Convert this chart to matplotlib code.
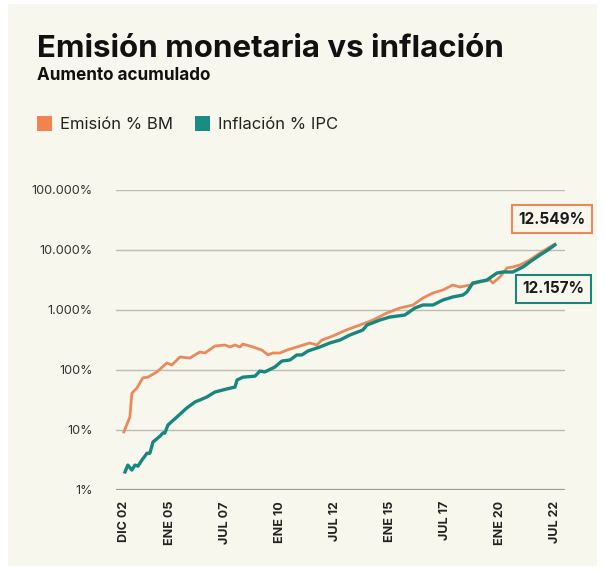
import matplotlib.pyplot as plt
import matplotlib.ticker as mticker
from matplotlib.patches import Rectangle

plt.rcParams["font.family"] = ["Inter", "DejaVu Sans"]

ORANGE = "#e9895c"
TEAL = "#17877e"
CREAM = "#f8f7ed"

# Emision % BM (aumento acumulado, escala log)
bm_years = [2002.92, 2003.19, 2003.28, 2003.51, 2003.78, 2004.01, 2004.42, 2004.87,
            2005.10, 2005.47, 2005.92, 2006.37, 2006.60, 2007.06, 2007.51, 2007.74,
            2007.97, 2008.19, 2008.33, 2008.78, 2009.19, 2009.47, 2009.69, 2010.01,
            2010.33, 2010.92, 2011.37, 2011.69, 2011.92, 2012.42, 2013.06, 2013.65,
            2014.24, 2014.87, 2015.47, 2016.06, 2016.51, 2016.97, 2017.42, 2017.87,
            2018.19, 2018.65, 2019.10, 2019.56, 2019.69, 2020.01, 2020.33, 2020.60,
            2020.92, 2021.37, 2021.83, 2022.28, 2022.51]
bm_values = [9.3, 16.5, 41, 50, 74, 76, 93, 131,
             121, 165, 158, 200, 192, 251, 261, 242,
             261, 242, 271, 242, 215, 178, 192, 192,
             215, 251, 282, 261, 316, 369, 470, 562,
             681, 891, 1080, 1212, 1585, 1920, 2154, 2610,
             2415, 2610, 2929, 3162, 2818, 3548, 5012, 5210,
             5623, 6813, 8913, 11220, 12549]

# Inflacion % IPC
ipc_years = [2002.97, 2003.10, 2003.28, 2003.42, 2003.56, 2003.74, 2003.97, 2004.10,
             2004.24, 2004.56, 2004.69, 2004.78, 2004.92, 2005.33, 2005.78, 2006.15,
             2006.37, 2006.69, 2007.06, 2007.60, 2007.97, 2008.06, 2008.33, 2008.88,
             2009.10, 2009.33, 2009.78, 2010.10, 2010.47, 2010.78, 2011.01, 2011.28,
             2011.83, 2012.28, 2012.74, 2013.19, 2013.78, 2013.97, 2014.56, 2015.01,
             2015.69, 2016.15, 2016.51, 2016.97, 2017.42, 2017.87, 2018.33, 2018.51,
             2018.78, 2019.42, 2019.88, 2020.15, 2020.60, 2021.06, 2021.37, 2021.83,
             2022.19, 2022.51]
ipc_values = [2.0, 2.6, 2.15, 2.6, 2.5, 3.16, 4.1, 4.1,
              6.3, 7.9, 8.9, 8.9, 12.1, 16.5, 23.3, 29.3,
              31.6, 35.5, 43, 48.3, 52, 68, 76, 79,
              96, 93, 112, 141, 147, 178, 178, 207,
              242, 282, 316, 383, 464, 562, 681, 764,
              825, 1080, 1212, 1212, 1468, 1648, 1778, 1995,
              2818, 3162, 4139, 4300, 4300, 5210, 6310, 8254,
              10000, 12157]

tick_years = [2002.92, 2005.0, 2007.5, 2010.0, 2012.5, 2015.0, 2017.5, 2020.0, 2022.5]
tick_labels = ["DIC 02", "ENE 05", "JUL 07", "ENE 10", "JUL 12", "ENE 15", "JUL 17", "ENE 20", "JUL 22"]
y_ticks = [1, 10, 100, 1000, 10000, 100000]
y_labels = ["1%", "10%", "100%", "1.000%", "10.000%", "100.000%"]

fig = plt.figure(figsize=(6.05, 5.73), dpi=100, facecolor="white")
fig.patches.append(Rectangle((8 / 605, 7 / 573), 589 / 605, 562 / 573,
                             transform=fig.transFigure, facecolor=CREAM,
                             edgecolor="none", zorder=-10))

ax = fig.add_axes([116 / 605, 83 / 573, 449 / 605, 300 / 573])
ax.set_facecolor("none")
ax.plot(bm_years, bm_values, color=ORANGE, linewidth=2.0, zorder=3)
ax.plot(ipc_years, ipc_values, color=TEAL, linewidth=2.4, zorder=4)

ax.set_yscale("log")
ax.set_ylim(1, 100000)
ax.set_xlim(2002.56, 2022.97)
ax.yaxis.set_major_locator(mticker.FixedLocator(y_ticks))
ax.yaxis.set_minor_locator(mticker.NullLocator())
ax.set_yticks(y_ticks)
ax.set_yticklabels(y_labels, fontsize=9.2, color="#333333")
ax.set_xticks(tick_years)
ax.set_xticklabels(tick_labels, rotation=90, fontsize=9, fontweight="bold",
                   color="#222222", va="top")
ax.tick_params(axis="both", length=0)
ax.tick_params(axis="y", pad=17)
ax.tick_params(axis="x", pad=8)
for s in ax.spines.values():
    s.set_visible(False)
ax.grid(axis="y", color="#bdbcb2", linewidth=1.0, zorder=1)
ax.axhline(1, color="#9c9b92", linewidth=1.6, zorder=2)

# Etiquetas de valor final
ax.annotate("12.549%", xy=(0.971, 0.903), xycoords="axes fraction", ha="center", va="center",
            fontsize=11, fontweight="bold", color="#1a1a1a", annotation_clip=False,
            bbox=dict(boxstyle="square,pad=0.42", facecolor=CREAM, edgecolor=ORANGE, linewidth=1.5))
ax.annotate("12.157%", xy=(0.975, 0.67), xycoords="axes fraction", ha="center", va="center",
            fontsize=11, fontweight="bold", color="#1a1a1a", annotation_clip=False,
            bbox=dict(boxstyle="square,pad=0.42", facecolor=CREAM, edgecolor=TEAL, linewidth=1.5))

# Titulo, subtitulo y leyenda
fig.text(37 / 605, 1 - 57 / 573, "Emisión monetaria vs inflación", fontsize=22.5,
         fontweight="bold", color="#111111", va="baseline")
fig.text(37 / 605, 1 - 80 / 573, "Aumento acumulado", fontsize=12.3,
         fontweight="bold", color="#111111", va="baseline")
fig.patches.append(Rectangle((37 / 605, 1 - 131 / 573), 15 / 605, 15 / 573,
                             transform=fig.transFigure, facecolor="#f2834f", edgecolor="none"))
fig.text(60 / 605, 1 - 129 / 573, "Emisión % BM", fontsize=12, color="#222222", va="baseline")
fig.patches.append(Rectangle((195 / 605, 1 - 131 / 573), 15 / 605, 15 / 573,
                             transform=fig.transFigure, facecolor="#1b8b86", edgecolor="none"))
fig.text(218 / 605, 1 - 129 / 573, "Inflación % IPC", fontsize=12, color="#222222", va="baseline")

fig.savefig("out.png", dpi=100, facecolor="white")
